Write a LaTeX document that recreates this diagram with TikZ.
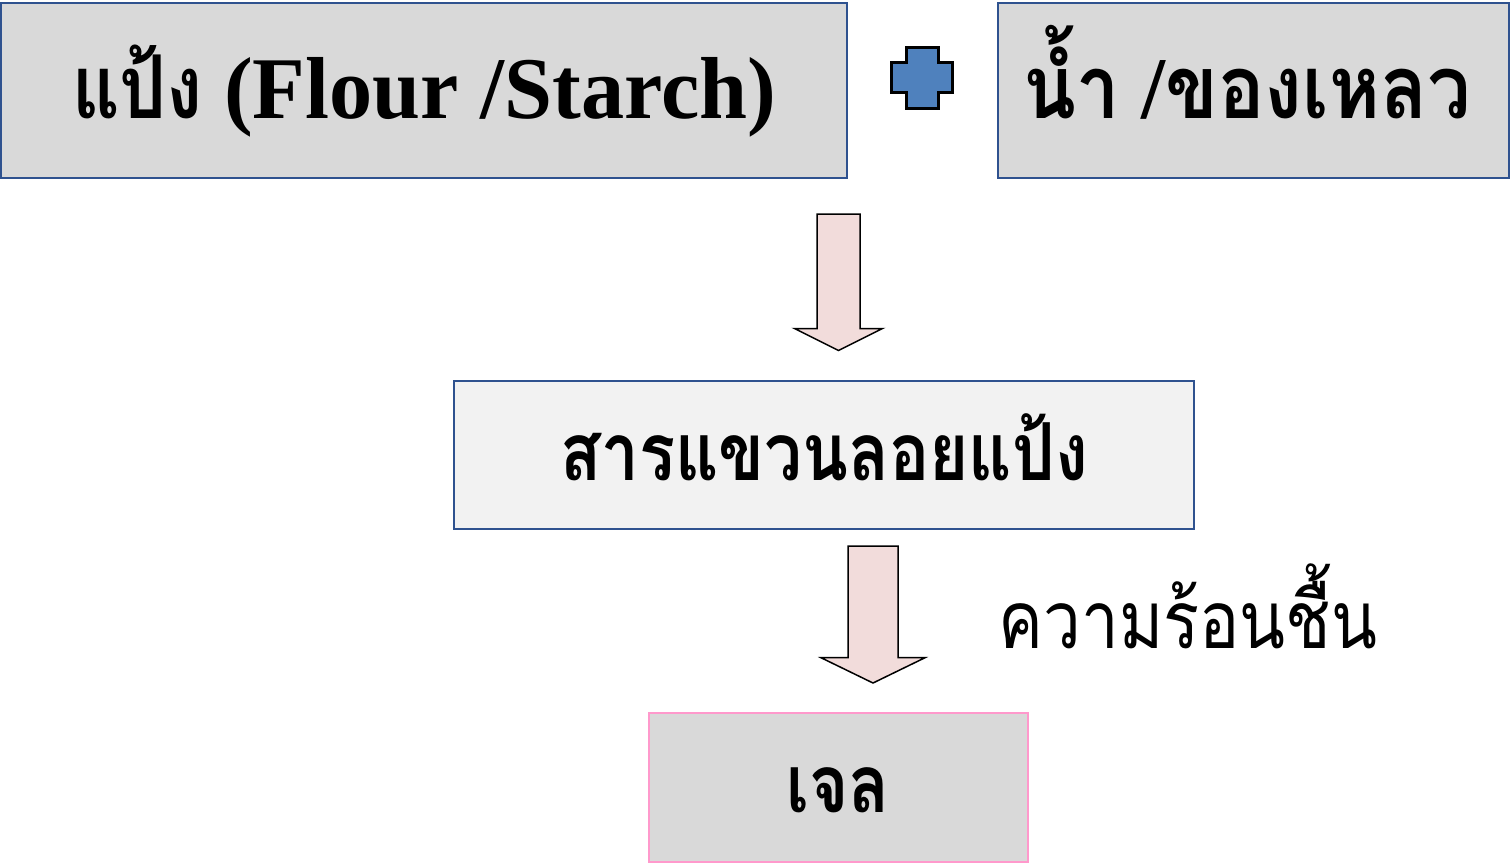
\documentclass[tikz,border=0pt]{standalone}
\usepackage{fontspec}
\newfontfamily\thaifont[Script=Thai,FakeStretch=0.84]{Loma}
\newfontfamily\thaiwide[Script=Thai,FakeStretch=0.88]{Loma}
\newfontfamily\latinbold{Liberation Serif Bold}[FakeStretch=0.98]
\definecolor{boxgray}{HTML}{D9D9D9}
\definecolor{boxlight}{HTML}{F2F2F2}
\definecolor{boxblue}{HTML}{2F528F}
\definecolor{boxpink}{HTML}{FF99CC}
\definecolor{arrowpink}{HTML}{F2DCDB}
\definecolor{plusblue}{HTML}{4F81BD}
\begin{document}
\begin{tikzpicture}[x=0.5pt,y=-0.5pt,
  box/.style={draw=boxblue,line width=1pt,fill=boxgray,minimum width=#1,inner sep=0pt,rectangle},
  lbl/.style={anchor=base,inner sep=0pt},
  blockarrow/.style={draw=black,line width=0.75pt,fill=arrowpink,line join=miter},
  plusshape/.style={draw=black,line width=1.5pt,fill=plusblue,line join=miter}]
\useasboundingbox (0,0) rectangle (1511,864);
% boxes
\node[box=423pt,minimum height=87.5pt] (flour) at (424,90.5) {};
\node[box=255.5pt,minimum height=87.5pt] (water) at (1253.5,90.5) {};
\node[box=370pt,minimum height=74pt,fill=boxlight] (susp) at (824,455) {};
\node[box=189.5pt,minimum height=74.5pt,draw=boxpink] (gel) at (838.5,787.5) {};
% texts
\node[lbl] (flourtxt) at (424,118) {\fontsize{44}{50}\selectfont\bfseries{\thaifont แป้ง}{\latinbold\ (Flour /Starch)}};
\node[lbl] (watertxt) at (1247,118) {\fontsize{44}{50}\selectfont\bfseries{\thaiwide น้ำ}{\latinbold\ /}{\thaiwide ของเหลว}};
\node[lbl] (susptxt) at (824,480) {\fontsize{40}{46}\selectfont\thaifont\bfseries สารแขวนลอยแป้ง};
\node[lbl] (geltxt) at (838,812) {\fontsize{40}{46}\selectfont\thaifont\bfseries เจล};
\node[lbl] (heattxt) at (1188,648) {\fontsize{40}{46}\selectfont\thaifont ความร้อนชื้น};
% plus sign
\draw[plusshape] (906.7,47.3) -- (938,47.3) -- (938,62.7) -- (952.3,62.7) -- (952.3,92.7) -- (938,92.7) -- (938,108.3) -- (906.7,108.3) -- (906.7,92.7) -- (891.7,92.7) -- (891.7,62.7) -- (906.7,62.7) -- cycle;
% block arrows
\draw[blockarrow] (817,214) -- (860,214) -- (860,328.5) -- (882.5,328.5) -- (838.5,350.5) -- (794.5,328.5) -- (817,328.5) -- cycle;
\draw[blockarrow] (848,546) -- (898,546) -- (898,657.7) -- (925,657.7) -- (873,683) -- (821,657.7) -- (848,657.7) -- cycle;
\end{tikzpicture}
\end{document}
